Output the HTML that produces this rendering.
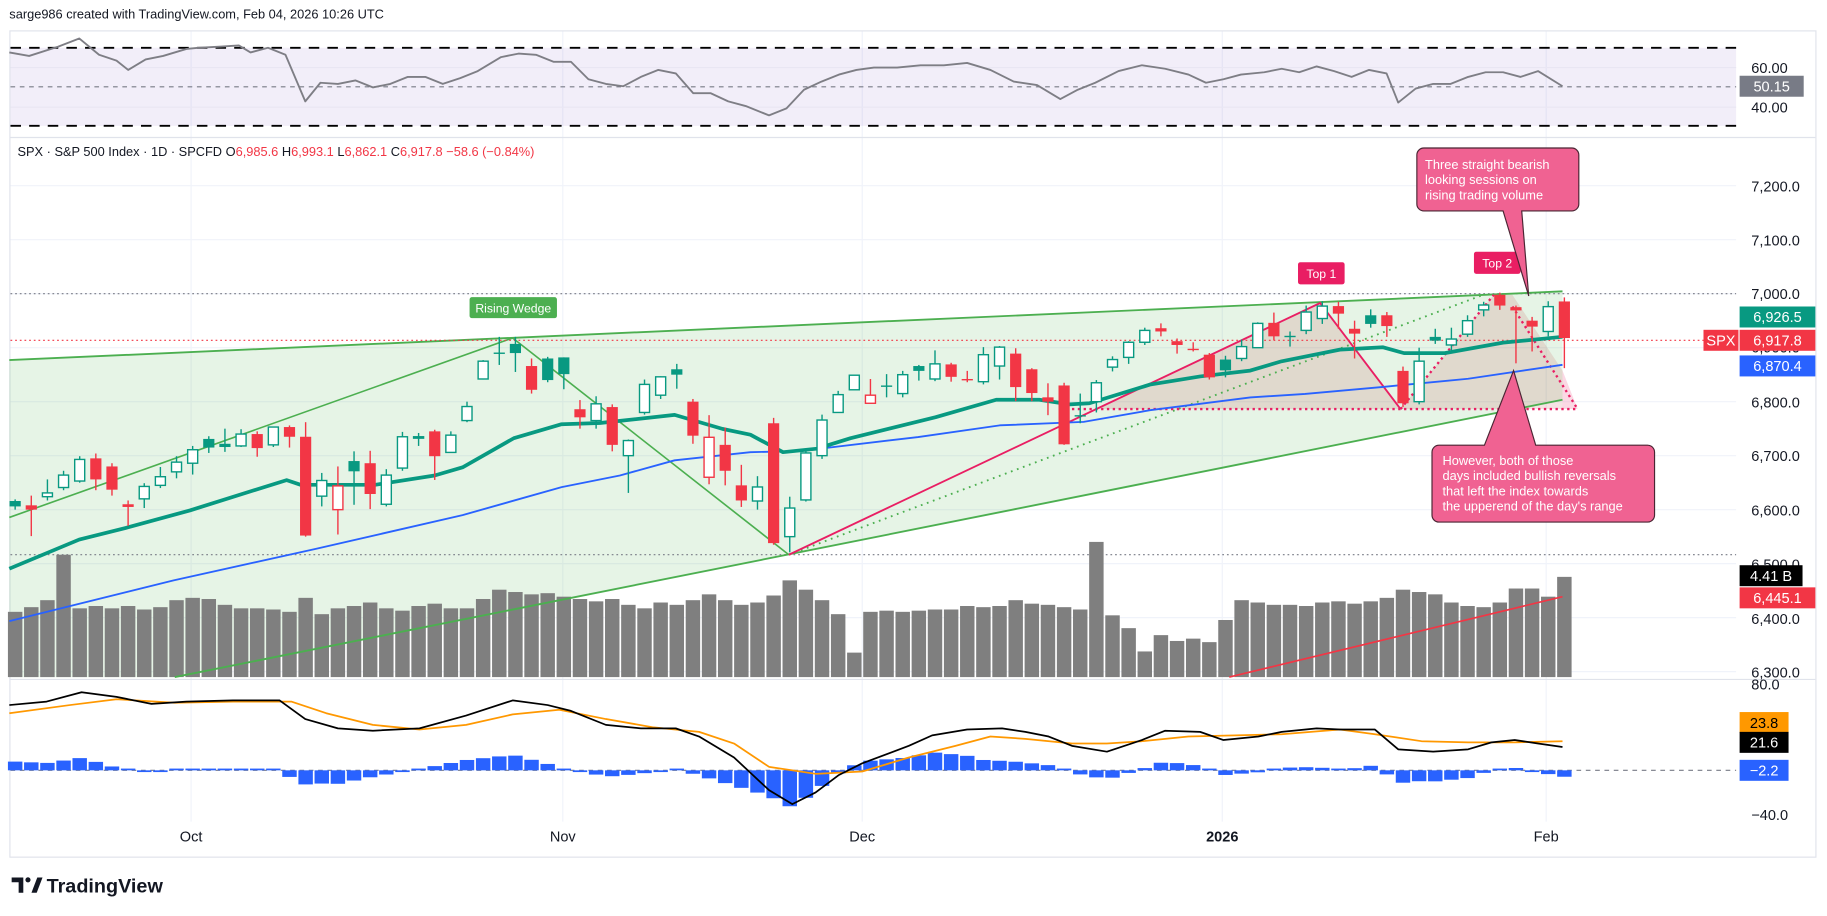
<!DOCTYPE html>
<html><head><meta charset="utf-8">
<style>
html,body{margin:0;padding:0;background:#fff;width:1827px;height:916px;overflow:hidden}
svg{display:block}
text{font-family:"Liberation Sans",Arial,sans-serif}
</style></head>
<body>
<svg id="s" width="1827" height="916" viewBox="0 0 1568 786" preserveAspectRatio="none" xmlns="http://www.w3.org/2000/svg"></svg>
<script>
const S=document.getElementById('s');let h='';
const Y=p=>252-(p-7000)*0.4633;
const X=i=>13+i*13.85;
function pl(pts,st,w,extra){return `<polyline points="${pts.map(p=>p.join(',')).join(' ')}" fill="none" stroke="${st}" stroke-width="${w}" stroke-linejoin="round" ${extra||''}/>`;}
function interp(pts,x){if(x<=pts[0][0])return pts[0][1];for(let i=1;i<pts.length;i++){if(x<=pts[i][0]){const a=pts[i-1],b=pts[i];return a[1]+(b[1]-a[1])*(x-a[0])/(b[0]-a[0]);}}return pts[pts.length-1][1];}
h+=`<rect x="0" y="0" width="1568" height="786" fill="#fff"/>`;
h+=`<text x="8" y="16" font-size="11" fill="#131722">sarge986 created with TradingView.com, Feb 04, 2026 10:26 UTC</text>`;
h+=`<rect x="8.5" y="26.5" width="1550" height="709" fill="#fff" stroke="#e0e3eb"/>`;
[164,483,740,1049,1327].forEach(x=>h+=`<line x1="${x}" y1="27" x2="${x}" y2="705" stroke="#f0f3fa"/>`);
for(let p=6300;p<=7200;p+=100){h+=`<line x1="9" y1="${Y(p)}" x2="1490" y2="${Y(p)}" stroke="#f0f3fa"/>`;}
h+=`<rect x="9" y="41" width="1481" height="67" fill="#7e57c2" fill-opacity="0.1"/>`;
h+=`<line x1="9" y1="58" x2="1490" y2="58" stroke="#e9e6f3"/><line x1="9" y1="92" x2="1490" y2="92" stroke="#e9e6f3"/>`;
h+=`<line x1="9" y1="41" x2="1490" y2="41" stroke="#000" stroke-width="1.6" stroke-dasharray="9,7"/>`;
h+=`<line x1="9" y1="108" x2="1490" y2="108" stroke="#000" stroke-width="1.6" stroke-dasharray="9,7"/>`;
h+=`<line x1="9" y1="74.5" x2="1490" y2="74.5" stroke="#787b86" stroke-dasharray="4,4"/>`;
const rsi=[[8,45],[25,48],[50,40],[68,33],[85,47],[100,52],[110,60],[125,51],[140,48],[160,42],[170,41],[190,40],[205,39],[215,45],[230,41],[245,47],[262,87],[275,71],[290,72],[305,69],[320,75],[335,72],[350,66],[365,66],[380,72],[395,67],[410,61],[430,49],[445,46],[460,47],[475,53],[490,53],[505,68],[520,72],[535,74],[550,66],[565,60],[580,63],[595,80],[610,80],[625,87],[640,91],[660,99],[675,93],[690,77],[705,70],[720,64],[735,60],[750,58],[770,58],[790,56],[810,56],[830,54],[850,60],[870,70],[890,73],[910,85],[925,77],[940,71],[960,61],[980,56],[1000,59],[1020,64],[1035,71],[1050,68],[1065,64],[1085,62],[1100,59],[1115,62],[1130,57],[1145,61],[1160,66],[1175,60],[1190,63],[1200,88],[1215,76],[1230,72],[1245,72],[1260,66],[1275,62],[1290,62],[1305,66],[1320,61],[1341,74]];
h+=pl(rsi,'#7e7e85',1.6);
h+=`<line x1="9" y1="118" x2="1558" y2="118" stroke="#e0e3eb"/>`;
h+=`<line x1="9" y1="583" x2="1558" y2="583" stroke="#e0e3eb"/>`;
h+=`<polygon points="8,309 1341,250 1341,343 150,581 8,581" fill="#4caf50" fill-opacity="0.14"/>`;
h+=`<polygon points="941,351 1133,260 1202,351" fill="#b71c1c" fill-opacity="0.12"/>`;
h+=`<polygon points="1202,351 1282,253 1298,253 1341,318 1341,351" fill="#b71c1c" fill-opacity="0.12"/>`;
h+=`<polygon points="1341,318 1354,351 1341,351" fill="#f48fb1" fill-opacity="0.35"/>`;
h+=`<line x1="9" y1="252" x2="1490" y2="252" stroke="#787b86" stroke-dasharray="1.5,2.5"/>`;
h+=`<line x1="9" y1="476" x2="1490" y2="476" stroke="#787b86" stroke-dasharray="1.5,2.5"/>`;
const vt=[525,521,515,476,522,520,522,520,523,521,515,513,514,519,522,522,523,525,513,527,522,520,517,522,524,520,518,522,522,514,506,508,510,509,512,514,516,514,519,522,517,519,515,510,515,519,517,511,498,506,515,527,560,525,524,525,524,523,523,520,521,520,515,518,519,521,523,465,528,539,559,545,550,548,551,532,515,517,519,519,520,517,516,518,516,513,506,508,510,517,520,521,517,505,505,512,495];
vt.forEach((t,i)=>{h+=`<rect x="${X(i)-6.2}" y="${t}" width="12.4" height="${581-t}" fill="#7f7f7f"/>`;});
h+=pl([[8,309],[1341,250]],'#4caf50',1.6);
h+=pl([[150,581],[1341,343]],'#4caf50',1.6);
h+=pl([[8,444],[440,290],[677,476]],'#4caf50',1.4);
h+=pl([[677,476],[1273,253]],'#4caf50',1.6,'stroke-dasharray="1.5,4"');
h+=pl([[677,476],[1133,260],[1202,351]],'#e91e63',1.6);
h+=`<line x1="920" y1="351" x2="1354" y2="351" stroke="#e91e63" stroke-width="2" stroke-dasharray="2,3"/>`;
h+=pl([[1202,351],[1282,253]],'#e91e63',2,'stroke-dasharray="2,3"');
h+=pl([[1298,263],[1354,351]],'#e91e63',2,'stroke-dasharray="2,3"');
h+=`<line x1="9" y1="292" x2="1462" y2="292" stroke="#f23645" stroke-dasharray="1.5,2.5"/>`;
h+=pl([[1055,581],[1341,512]],'#f23645',1.4);
const blue=[[8,533],[149,498],[271,471],[397,442],[482,418],[532,408],[579,395],[644,388],[687,387],[788,375],[858,365],[930,362],[987,352],[1073,341],[1120,338],[1187,332],[1260,325],[1341,313]];
const green=[[8,488],[68,463],[108,453],[163,438],[217,421],[246,412],[258,416],[322,416],[373,408],[397,401],[441,376],[482,364],[515,363],[579,356],[620,368],[644,373],[672,388],[701,385],[730,376],[803,358],[855,343],[892,343],[918,347],[935,346],[987,330],[1030,323],[1073,318],[1100,310],[1150,300],[1187,298],[1205,303],[1240,303],[1290,294],[1341,289]];
h+=pl(blue,'#2962ff',1.6);
h+=pl(green,'#089981',3.2);
const D=[[6616,6619,6600,6606],[6608,6626,6551,6600],[6624,6656,6617,6631],[6641,6672,6636,6664],[6653,6699,6650,6693],[6695,6704,6636,6656],[6680,6686,6626,6637],[6610,6617,6570,6605],[6620,6649,6603,6643],[6645,6679,6640,6661],[6670,6699,6658,6688],[6686,6718,6665,6711],[6731,6736,6705,6715],[6722,6750,6707,6716],[6718,6749,6716,6740],[6740,6745,6698,6714],[6720,6754,6716,6753],[6753,6756,6715,6735],[6735,6762,6550,6552],[6625,6668,6606,6654],[6600,6680,6554,6644],[6690,6708,6609,6671],[6686,6709,6601,6629],[6610,6675,6606,6664],[6677,6744,6672,6735],[6733,6742,6718,6735],[6745,6748,6655,6699],[6706,6745,6706,6738],[6765,6800,6762,6791],[6842,6877,6841,6875],[6891,6920,6868,6890],[6907,6920,6855,6890],[6866,6880,6815,6822],[6880,6883,6836,6840],[6882,6882,6823,6851],[6786,6803,6750,6771],[6765,6810,6750,6796],[6790,6795,6708,6720],[6700,6730,6631,6728],[6780,6841,6776,6832],[6812,6847,6805,6846],[6860,6870,6824,6850],[6800,6805,6722,6737],[6660,6775,6647,6734],[6720,6752,6645,6672],[6645,6683,6605,6617],[6616,6662,6600,6642],[6760,6770,6535,6538],[6550,6624,6521,6603],[6618,6709,6615,6705],[6700,6776,6694,6766],[6780,6820,6780,6813],[6822,6849,6822,6849],[6797,6842,6797,6812],[6830,6851,6808,6829],[6815,6857,6808,6850],[6866,6868,6839,6857],[6842,6895,6838,6870],[6869,6872,6837,6846],[6842,6857,6836,6840],[6837,6901,6832,6887],[6866,6903,6841,6901],[6889,6899,6801,6827],[6860,6862,6801,6816],[6808,6834,6775,6800],[6830,6835,6720,6721],[6775,6815,6760,6775],[6800,6840,6780,6835],[6864,6884,6856,6878],[6882,6912,6870,6910],[6910,6937,6905,6932],[6936,6945,6921,6930],[6912,6917,6889,6905],[6898,6910,6893,6896],[6887,6890,6841,6845],[6878,6885,6845,6858],[6880,6915,6875,6902],[6900,6947,6900,6945],[6946,6965,6914,6921],[6922,6930,6902,6921],[6932,6978,6925,6966],[6954,6986,6944,6977],[6977,6985,6935,6963],[6935,6950,6880,6926],[6960,6971,6937,6944],[6960,6966,6920,6940],[6857,6865,6790,6797],[6800,6900,6795,6875],[6920,6935,6907,6913],[6905,6937,6895,6916],[6925,6960,6920,6950],[6970,6985,6958,6979],[6998,7002,6970,6978],[6975,6978,6871,6969],[6950,6957,6893,6939],[6930,6986,6921,6976],[6985.6,6993.1,6862.1,6917.8]];
D.forEach((d,i)=>{const [o,hi,lo,c]=d;const pc=i?D[i-1][3]:6606;const col=c>=pc?'#089981':'#f23645';const x=X(i);const hol=c>o;
 const yt=Y(Math.max(o,c)),yb=Y(Math.min(o,c));const bh=Math.max(1.2,yb-yt);
 h+=`<line x1="${x}" y1="${Y(hi)}" x2="${x}" y2="${Y(lo)}" stroke="${col}" stroke-width="1.2"/>`;
 if(hol)h+=`<rect x="${x-4.3}" y="${yt}" width="8.6" height="${bh}" fill="#fff" stroke="${col}" stroke-width="1.2"/>`;
 else h+=`<rect x="${x-4.8}" y="${yt}" width="9.6" height="${bh}" fill="${col}"/>`;
});
const blk=[[8,605],[40,602],[70,594],[100,598],[130,604],[160,602],[200,601],[240,601],[262,617],[290,625],[320,627],[360,625],[400,614],[440,601],[470,605],[490,610],[520,622],[550,625],[580,625],[600,632],[630,650],[660,678],[680,690],[700,680],[720,665],[740,655],[780,640],[800,631],[830,626],[860,625],[880,628],[900,632],[920,640],[950,645],[980,635],[1000,627],[1030,628],[1050,635],[1080,632],[1100,628],[1130,625],[1150,626],[1180,626],[1200,643],[1230,645],[1260,643],[1280,637],[1300,635],[1320,638],[1341,641]];
const org=[[8,612],[60,605],[100,600],[150,603],[200,602],[250,602],[280,612],[320,622],[360,626],[400,622],[440,613],[480,609],[520,617],[560,624],[600,628],[630,638],[660,658],[700,664],[740,662],[780,650],[820,640],[850,632],[880,634],[920,638],[950,638],[980,636],[1020,632],[1060,631],[1100,630],[1150,626],[1180,630],[1220,636],[1260,637],[1300,637],[1341,636]];
h+=`<line x1="9" y1="661" x2="1490" y2="661" stroke="#787b86" stroke-dasharray="4,4"/>`;
for(let i=0;i<=96;i++){const x=X(i);let d=(interp(blk,x)-interp(org,x))*1.1;if(Math.abs(d)<1.5)d=d<0?-1.5:1.5;
 const y0=d<0?661+d:661;h+=`<rect x="${x-6.2}" y="${y0}" width="12.4" height="${Math.abs(d)}" fill="#2962ff"/>`;}
h+=pl(org,'#ff9800',1.5);
h+=pl(blk,'#000',1.5);
h+=`<text x="15" y="134" font-size="11" fill="#131722">SPX · S&amp;P 500 Index · 1D · SPCFD <tspan>O</tspan><tspan fill="#f23645">6,985.6</tspan>  H<tspan fill="#f23645">6,993.1</tspan>  L<tspan fill="#f23645">6,862.1</tspan>  C<tspan fill="#f23645">6,917.8</tspan>  <tspan fill="#f23645">−58.6 (−0.84%)</tspan></text>`;
function at(t,y){h+=`<text x="1503" y="${y+4.5}" font-size="12.5" fill="#131722">${t}</text>`;}
at('60.00',58);at('40.00',92);
[[7200,160],[7100,206],[7000,252],[6900,298],[6800,345],[6700,391],[6600,438],[6500,484],[6400,531],[6300,577]].forEach(a=>at(a[0].toLocaleString('en-US')+'.0',a[1]));
at('80.0',587);at('−40.0',699);
function box(t,y,bg,x1,w,fc){h+=`<rect x="${x1}" y="${y-9}" width="${w}" height="18" fill="${bg}"/><text x="${x1+w/2}" y="${y+4.5}" font-size="12.5" fill="${fc||'#fff'}" text-anchor="middle">${t}</text>`;}
box('50.15',74,'#787b86',1493,55);
box('6,926.5',272,'#089981',1493,65);
box('6,917.8',292,'#f23645',1493,65);
box('SPX',292,'#f23645',1462,30);
box('6,870.4',314,'#2962ff',1493,65);
box('4.41 B',494,'#000',1493,54);
box('6,445.1',513,'#f23645',1493,65);
box('23.8',620,'#ff9800',1493,42,'#000');
box('21.6',637,'#000',1493,42);
box('−2.2',661,'#2962ff',1493,42);
[['Oct',164],['Nov',483],['Dec',740],['2026',1049],['Feb',1327]].forEach(a=>h+=`<text x="${a[1]}" y="722" font-size="12.5" fill="#131722" text-anchor="middle" ${a[0]=='2026'?'font-weight="bold"':''}>${a[0]}</text>`);
h+=`<rect x="403" y="255" width="75" height="18" rx="2" fill="#4caf50"/><text x="440.5" y="268" font-size="10.5" fill="#fff" text-anchor="middle">Rising Wedge</text>`;
h+=`<rect x="1114" y="225" width="40" height="19" rx="2" fill="#e91e63"/><text x="1134" y="238.5" font-size="10.5" fill="#fff" text-anchor="middle">Top 1</text>`;
h+=`<rect x="1265" y="216" width="40" height="19" rx="2" fill="#e91e63"/><text x="1285" y="229.5" font-size="10.5" fill="#fff" text-anchor="middle">Top 2</text>`;
h+=`<path d="M1222,127 H1349 a6,6 0 0 1 6,6 V175 a6,6 0 0 1 -6,6 H1306 L1312,254 L1290,181 H1222 a6,6 0 0 1 -6,-6 V133 a6,6 0 0 1 6,-6 Z" fill="#f06292" stroke="#4a2533" stroke-width="1"/>`;
[['Three straight bearish',145],['looking sessions on',158],['rising trading volume',171]].forEach(a=>h+=`<text x="1223" y="${a[1]}" font-size="11" fill="#fff">${a[0]}</text>`);
h+=`<path d="M1235,382 H1274 L1299,318 L1318,382 H1414 a6,6 0 0 1 6,6 V442 a6,6 0 0 1 -6,6 H1235 a6,6 0 0 1 -6,-6 V388 a6,6 0 0 1 6,-6 Z" fill="#f06292" stroke="#4a2533" stroke-width="1"/>`;
[['However, both of those',399],['days included bullish reversals',412],['that left the index towards',425],['the upperend of the day\'s range',438]].forEach(a=>h+=`<text x="1238" y="${a[1]}" font-size="11" fill="#fff">${a[0]}</text>`);
h+=`<path d="M10,753 h10 v13 h-4 v-9 h-6 z" fill="#131722"/><circle cx="24" cy="755" r="2.2" fill="#131722"/><path d="M27,766 l5,-13 h4.5 l-5,13 z" fill="#131722"/>`;
h+=`<text x="40" y="766" font-size="17" font-weight="bold" fill="#131722">TradingView</text>`;
S.innerHTML=h;
</script>
</body></html>
